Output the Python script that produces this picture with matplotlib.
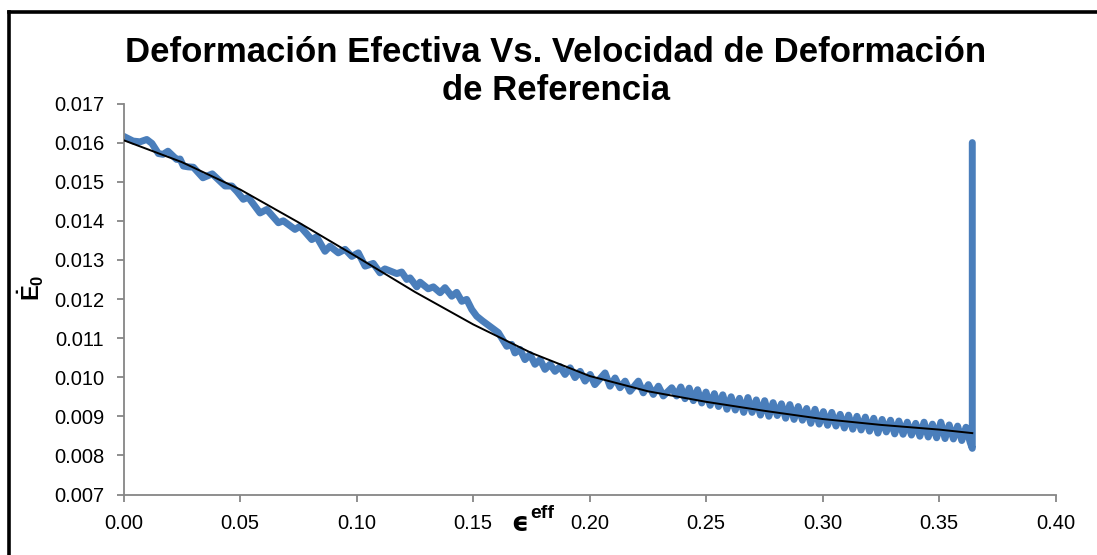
import matplotlib
matplotlib.use("Agg")
import matplotlib.pyplot as plt
from matplotlib.lines import Line2D

# ---- data ----
strain = [
    0.0000, 0.0040, 0.0070, 0.0099, 0.0121, 0.0149, 0.0169, 0.0190, 0.0227, 0.0242,
    0.0256, 0.0276, 0.0299, 0.0340, 0.0380, 0.0435, 0.0464, 0.0486, 0.0513, 0.0535,
    0.0585, 0.0614, 0.0664, 0.0685, 0.0735, 0.0757,
    0.0807, 0.0828, 0.0864, 0.0885, 0.0921, 0.0950, 0.0979, 0.1007, 0.1036, 0.1071,
    0.1100, 0.1121, 0.1172, 0.1193, 0.1215, 0.1229, 0.1258, 0.1272, 0.1307, 0.1329,
    0.1358, 0.1379, 0.1408, 0.1429, 0.1451, 0.1472, 0.1494, 0.1515,
    0.1540, 0.1572, 0.1608, 0.1644, 0.1665, 0.1679, 0.1701, 0.1722, 0.1744, 0.1765,
    0.1787, 0.1808, 0.1830, 0.1851, 0.1873, 0.1894, 0.1916, 0.1937, 0.1959, 0.1980,
    0.2002, 0.2022, 0.2066, 0.2087, 0.2109, 0.2130, 0.2152, 0.2173, 0.2209, 0.2230,
    0.2252, 0.2273, 0.2295, 0.2316, 0.2352, 0.2373,
    0.2391, 0.2409, 0.2427, 0.2445, 0.2463, 0.2481, 0.2499, 0.2517, 0.2535, 0.2553,
    0.2571, 0.2589, 0.2607, 0.2625, 0.2643, 0.2661, 0.2679, 0.2697, 0.2715, 0.2733,
    0.2751, 0.2769, 0.2787, 0.2805, 0.2823, 0.2841, 0.2859, 0.2877, 0.2895, 0.2913,
    0.2931, 0.2949, 0.2967, 0.2985, 0.3003, 0.3021, 0.3039, 0.3057, 0.3075, 0.3093,
    0.3111, 0.3129, 0.3147, 0.3165, 0.3183, 0.3201, 0.3219, 0.3237, 0.3255, 0.3273,
    0.3291, 0.3309, 0.3327, 0.3345, 0.3363, 0.3381, 0.3399, 0.3417, 0.3435, 0.3453,
    0.3471, 0.3489, 0.3507, 0.3525, 0.3543, 0.3561, 0.3579, 0.3597, 0.3615, 0.3633,
    0.3642, 0.3642,
]
rate = [
    0.01616, 0.01604, 0.01602, 0.01608, 0.01598, 0.01572, 0.01570, 0.01578, 0.01557, 0.01558,
    0.01540, 0.01538, 0.01537, 0.01510, 0.01520, 0.01489, 0.01489, 0.01475, 0.01455, 0.01460,
    0.01420, 0.01429, 0.01395, 0.01400, 0.01378, 0.01386,
    0.01352, 0.01359, 0.01322, 0.01335, 0.01318, 0.01327, 0.01309, 0.01318, 0.01284, 0.01291,
    0.01267, 0.01277, 0.01265, 0.01269, 0.01250, 0.01254, 0.01231, 0.01243, 0.01226, 0.01231,
    0.01216, 0.01229, 0.01207, 0.01217, 0.01194, 0.01199, 0.01173, 0.01156,
    0.01144, 0.01130, 0.01114, 0.01079, 0.01084, 0.01062, 0.01071, 0.01045, 0.01058, 0.01033,
    0.01045, 0.01020, 0.01033, 0.01015, 0.01027, 0.01007, 0.01024, 0.00999, 0.01015, 0.00990,
    0.01007, 0.00981, 0.01011, 0.00977, 0.00998, 0.00973, 0.00990, 0.00964, 0.00990, 0.00960,
    0.00981, 0.00956, 0.00977, 0.00952, 0.00973, 0.00952,
    0.00975, 0.00945, 0.00972, 0.00940, 0.00968, 0.00934, 0.00962, 0.00928, 0.00958, 0.00925,
    0.00955, 0.00918, 0.00950, 0.00916, 0.00946, 0.00910, 0.00948, 0.00910, 0.00942, 0.00903,
    0.00940, 0.00900, 0.00935, 0.00902, 0.00932, 0.00895, 0.00930, 0.00892, 0.00925, 0.00890,
    0.00920, 0.00882, 0.00918, 0.00880, 0.00912, 0.00877, 0.00910, 0.00875, 0.00905, 0.00870,
    0.00903, 0.00867, 0.00900, 0.00865, 0.00898, 0.00862, 0.00895, 0.00857, 0.00892, 0.00860,
    0.00890, 0.00855, 0.00888, 0.00854, 0.00885, 0.00852, 0.00882, 0.00849, 0.00885, 0.00847,
    0.00880, 0.00845, 0.00885, 0.00843, 0.00878, 0.00842, 0.00875, 0.00838, 0.00872, 0.00833,
    0.00818, 0.01600,
]

trend_x = [0.000, 0.025, 0.050, 0.075, 0.100, 0.125, 0.150, 0.175, 0.200,
           0.225, 0.250, 0.275, 0.300, 0.325, 0.350, 0.3642]
trend_y = [0.01606, 0.01550, 0.01480, 0.01396, 0.01308, 0.01218, 0.01135, 0.01062, 0.01003,
           0.00964, 0.00937, 0.00914, 0.00893, 0.00878, 0.00866, 0.00857]

x_ticks = [0.00, 0.05, 0.10, 0.15, 0.20, 0.25, 0.30, 0.35, 0.40]
y_ticks = [0.007, 0.008, 0.009, 0.010, 0.011, 0.012, 0.013, 0.014, 0.015, 0.016, 0.017]

title_line1 = "Deformación Efectiva Vs. Velocidad de Deformación"
title_line2 = "de Referencia"

# ---- figure ----
plt.rcParams['font.family'] = ['Liberation Sans', 'DejaVu Sans']
plt.rcParams['mathtext.fontset'] = 'custom'
plt.rcParams['mathtext.rm'] = 'Liberation Sans'
plt.rcParams['mathtext.bf'] = 'Liberation Sans:bold'

W, H = 1097, 555
fig = plt.figure(figsize=(W / 100, H / 100), dpi=100)
ax = fig.add_axes([123.7 / W, 1 - 494.5 / H, (1055.7 - 123.7) / W, (494.5 - 103.5) / H])

blue = '#4a7ebb'
ax.plot(strain, rate, color=blue, lw=5.0, solid_joinstyle='round', solid_capstyle='round', zorder=2)
ax.plot(trend_x, trend_y, color='black', lw=1.4, zorder=3)

ax.set_xlim(0, 0.40)
ax.set_ylim(0.007, 0.017)
ax.set_xticks(x_ticks)
ax.set_yticks(y_ticks)
ax.set_xticklabels([f"{v:.2f}" for v in x_ticks])
ax.set_yticklabels([f"{v:.3f}" for v in y_ticks])

gray = '#868686'
for s in ['top', 'right']:
    ax.spines[s].set_visible(False)
for s in ['left', 'bottom']:
    ax.spines[s].set_color(gray)
    ax.spines[s].set_linewidth(1.3)
ax.tick_params(axis='both', colors=gray, length=5, width=1.3, direction='out',
               labelsize=14.5, labelcolor='black')
ax.tick_params(axis='y', pad=9)
ax.tick_params(axis='x', pad=9)

# titles
fig.text(556 / W, 1 - 53 / H, title_line1,
         ha='center', va='center', fontsize=25, fontweight='bold')
fig.text(556 / W, 1 - 91 / H, title_line2,
         ha='center', va='center', fontsize=25, fontweight='bold')

# axis labels
fig.text(31 / W, 1 - 288 / H, r'$\mathbf{\dot{E}_0}$', rotation=90,
         ha='center', va='center', fontsize=17)
fig.text(520 / W, 1 - 524 / H, 'ϵ', ha='center', va='center', fontsize=19,
         fontweight='bold', family=['DejaVu Sans'])
fig.text(530 / W, 1 - 513 / H, 'eff', ha='left', va='center', fontsize=14,
         fontweight='bold')

# chart-area frame (top and left visible)
fig.add_artist(Line2D([9 / W, 9 / W], [0, 1 - 11.5 / H], transform=fig.transFigure,
                      color='black', lw=2.6, solid_capstyle='projecting'))
fig.add_artist(Line2D([9 / W, 1], [1 - 11.5 / H, 1 - 11.5 / H], transform=fig.transFigure,
                      color='black', lw=2.6, solid_capstyle='projecting'))

fig.savefig('out.png', dpi=100)
